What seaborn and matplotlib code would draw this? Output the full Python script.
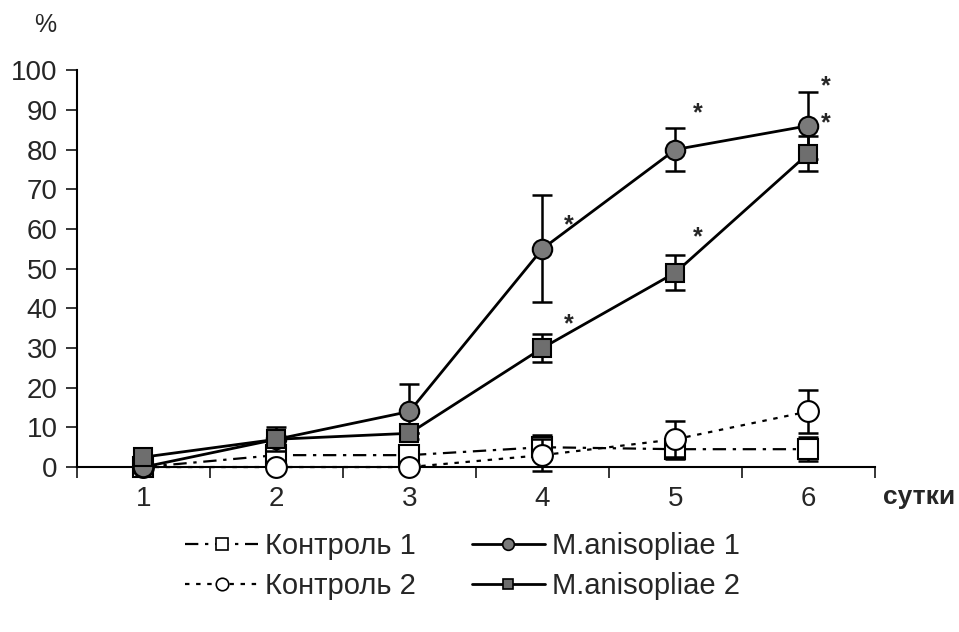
import numpy as np
import pandas as pd
import matplotlib
matplotlib.use("Agg")
import matplotlib.pyplot as plt
import seaborn as sns
from matplotlib.lines import Line2D

sns.set_theme(style="white")
plt.rcParams['font.family'] = ['Liberation Sans', 'DejaVu Sans']

days = ["1", "2", "3", "4", "5", "6"]
control1 = [0, 3, 3, 5, 4.5, 4.5]
control1_err = [0, 0, 0, 3, 2.5, 3]
control2 = [0, 0, 0, 3, 7, 14]
control2_err = [0, 0, 0, 4, 4.5, 5.5]
ma1 = [0, 7, 14, 55, 80, 86]
ma1_err = [0, 0, 7, 13.5, 5.5, 8.5]
ma2 = [2.5, 7, 8.5, 30, 49, 79]
ma2_err = [0, 3, 0, 3.5, 4.5, 4.5]
names = ["Контроль 1", "Контроль 2", "M.anisopliae 1", "M.anisopliae 2"]
# significance stars: (series index, day index)
stars = [(2, 3), (3, 3), (2, 4), (3, 4), (2, 5), (3, 5)]

fig = plt.figure(figsize=(9.59, 6.32), dpi=100)
ax = fig.add_axes([0.0803, 0.261, 0.832, 0.628])

x = np.arange(len(days))
series = [
    (control1, control1_err, names[0], (0, (6, 3, 1.5, 3)), 's', 'white', 14, 1.6),
    (control2, control2_err, names[1], (0, (2, 3)), 'o', 'white', 15, 1.6),
    (ma1, ma1_err, names[2], '-', 'o', '#7a7a7a', 14, 2.0),
    (ma2, ma2_err, names[3], '-', 's', '#6e6e6e', 13, 2.0),
]

handles = []
for i, (vals, errs, name, ls, mk, fc, ms, lw) in enumerate(series):
    df = pd.DataFrame({"x": x, "y": vals})
    z = 3 + i
    ax.errorbar(x, vals, yerr=errs, fmt='none', ecolor='black', elinewidth=1.8,
                capsize=7, capthick=1.8, zorder=z, clip_on=False)
    sns.lineplot(data=df, x="x", y="y", ax=ax, color='black', linewidth=lw,
                 linestyle=ls, marker=mk, markersize=ms, markerfacecolor=fc,
                 markeredgecolor='black', markeredgewidth=1.5, zorder=z,
                 clip_on=False, legend=False)
    handles.append(Line2D([], [], color='black', linestyle=ls, linewidth=lw,
                          marker=mk, markersize=ms * 0.6, markerfacecolor=fc,
                          markeredgecolor='black', markeredgewidth=1.2))

for si, di in stars:
    v = series[si][0][di]
    e = series[si][1][di]
    if si == 2 and di == 5:
        ax.text(di + 0.13, v + 1.5 + e, "*", fontsize=18, fontweight='bold', ha='center', va='center')
    elif si == 3 and di == 5:
        ax.text(di + 0.13, ma1[5] + 0.5, "*", fontsize=18, fontweight='bold', ha='center', va='center')
    elif di == 4:
        ax.text(di + 0.17, v + 9.0, "*", fontsize=18, fontweight='bold', ha='center', va='center')
    else:
        ax.text(di + 0.2, v + 6.0, "*", fontsize=18, fontweight='bold', ha='center', va='center')

ax.set_xlim(-0.5, len(days) - 0.5)
ax.set_ylim(0, 100)
ax.set_yticks(np.arange(0, 101, 10))
ax.set_xticks(x)
ax.set_xticklabels(days)
ax.set_xticks(np.arange(-0.5, len(days), 1), minor=True)
ax.tick_params(axis='x', which='major', length=0, pad=14, labelsize=20)
ax.tick_params(axis='x', which='minor', length=8, width=1.3, direction='out', bottom=True)
ax.tick_params(axis='y', which='major', length=8, width=1.3, direction='out', left=True,
               labelsize=20, pad=6)
ax.set_xlabel("")
ax.set_ylabel("")
for s in ['top', 'right']:
    ax.spines[s].set_visible(False)
for s in ['left', 'bottom']:
    ax.spines[s].set_color('black')
    ax.spines[s].set_linewidth(1.5)

fig.text(45 / 959, 1 - 25 / 632, "%", fontsize=18, ha='center', va='center')
fig.text(919 / 959, 1 - 497 / 632, "сутки", fontsize=19, fontweight='bold',
         ha='center', va='center')

leg = fig.legend(handles=handles, labels=names, ncol=2, frameon=False,
                 loc='upper left', bbox_to_anchor=(159 / 959, 1 - 506 / 632),
                 fontsize=21, handlelength=2.5, columnspacing=1.9,
                 handletextpad=0.25, labelspacing=0.4)

fig.savefig("out.png", dpi=100)
